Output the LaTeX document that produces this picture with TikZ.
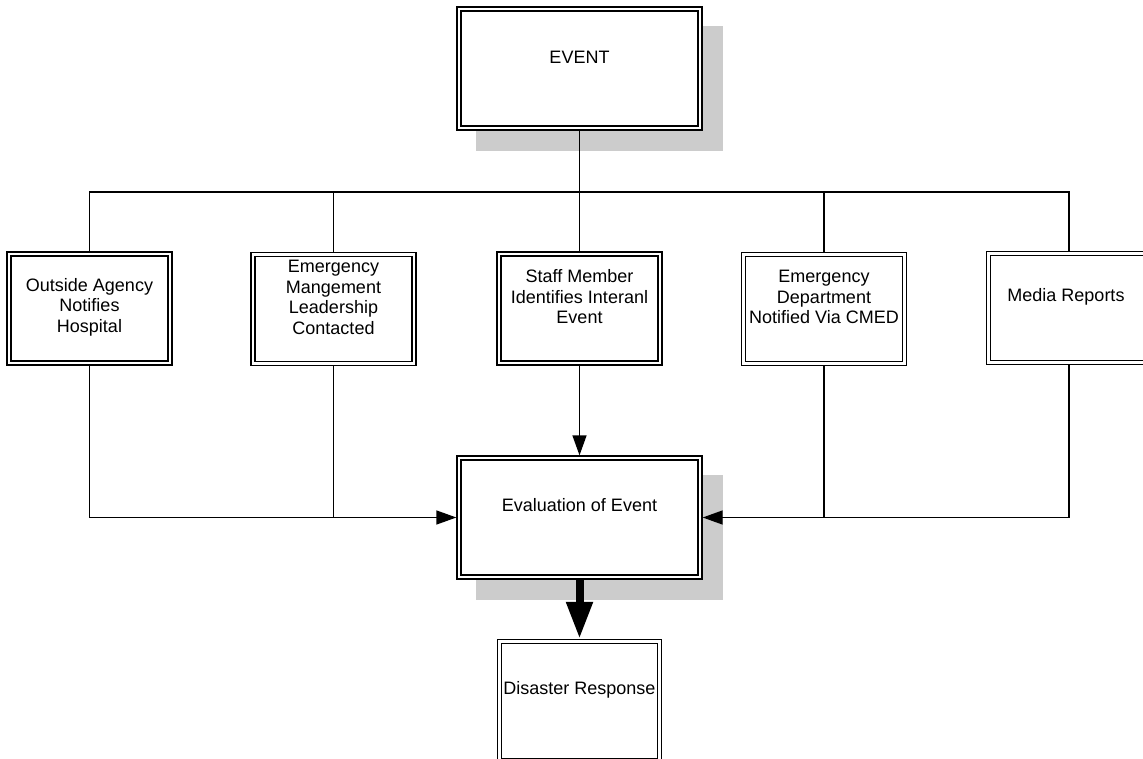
\documentclass[tikz,border=0pt]{standalone}
\usepackage{fontspec}
\setmainfont{Liberation Sans}
\usetikzlibrary{arrows.meta,backgrounds}
\definecolor{shadecol}{RGB}{204,204,204}
\begin{document}
\begin{tikzpicture}[x=0.75pt,y=-0.75pt,
  box/.style={draw=black, line width=1pt, double=white, double distance=2pt,
              fill=white, inner sep=0pt, outer sep=2pt},
  childbox/.style={box, minimum width=120.75pt, minimum height=81.75pt},
  bigbox/.style={box, minimum width=180.75pt, minimum height=89.25pt},
  txt/.style={font=\fontsize{13.5}{15.4}\selectfont, align=center, inner sep=0pt},
  conn/.style={line width=1.1pt},
  arr/.style={conn, -{Triangle[width=10.5pt,length=15pt]}},
  bigarr/.style={line width=6pt, -{Triangle[width=18.75pt,length=27.75pt]}}]
\useasboundingbox (0,0) rectangle (1143,759);
\clip (0,0) rectangle (1143,759);

% boxes
\node[bigbox] (event) at (579.5,68.5) {};
\node[childbox] (c1) at (89.5,308.5) {};
\node[childbox] (c2) at (333.5,309) {};
\node[childbox] (c3) at (579.5,308.5) {};
\node[childbox] (c4) at (824,309) {};
\node[childbox] (c5) at (1069,308) {};
\node[bigbox] (eval) at (579.5,517.5) {};
\node[box, minimum width=120pt, minimum height=89.25pt] (dis) at (579.5,701) {};

% shadows
\begin{scope}[on background layer]
\fill[shadecol] ([shift={(20,20)}]event.north west) rectangle ([shift={(20,20)}]event.south east);
\fill[shadecol] ([shift={(20,20)}]eval.north west) rectangle ([shift={(20,20)}]eval.south east);
\end{scope}

% texts
\node[txt] (eventT) at (579.5,57) {EVENT};
\node[txt] (c1T) at (89.5,307) {Outside Agency\\Notifies\\Hospital};
\node[txt] (c2T) at (333.5,297.5) {Emergency\\Mangement\\Leadership\\Contacted};
\node[txt] (c3T) at (579.5,297) {Staff Member\\Identifies Interanl\\Event};
\node[txt] (c4T) at (824,297) {Emergency\\Department\\Notified Via CMED};
\node[txt] (c5T) at (1066,297) {Media Reports};
\node[txt] (evalT) at (579.5,505) {Evaluation of Event};
\node[txt] (disT) at (579.5,690) {Disaster Response};

% top connectors
\coordinate (bus) at (579.5,192);
\draw[conn] (event.south) -- (c3.north);
\draw[conn] (c1.north) |- (bus) -| (c5.north);
\draw[conn] (c2.north) -- (c2.north |- bus);
\draw[conn] (c4.north) -- (c4.north |- bus);

% bottom connectors
\draw[arr] (c1.south) |- (eval.west);
\draw[conn] (c2.south) -- (c2.south |- eval.west);
\draw[arr] (c3.south) -- (eval.north);
\draw[conn] (c4.south) -- (c4.south |- eval.east);
\draw[arr] (c5.south) |- (eval.east);

% thick arrow
\draw[bigarr] (eval.south) -- (dis.north);
\end{tikzpicture}
\end{document}
